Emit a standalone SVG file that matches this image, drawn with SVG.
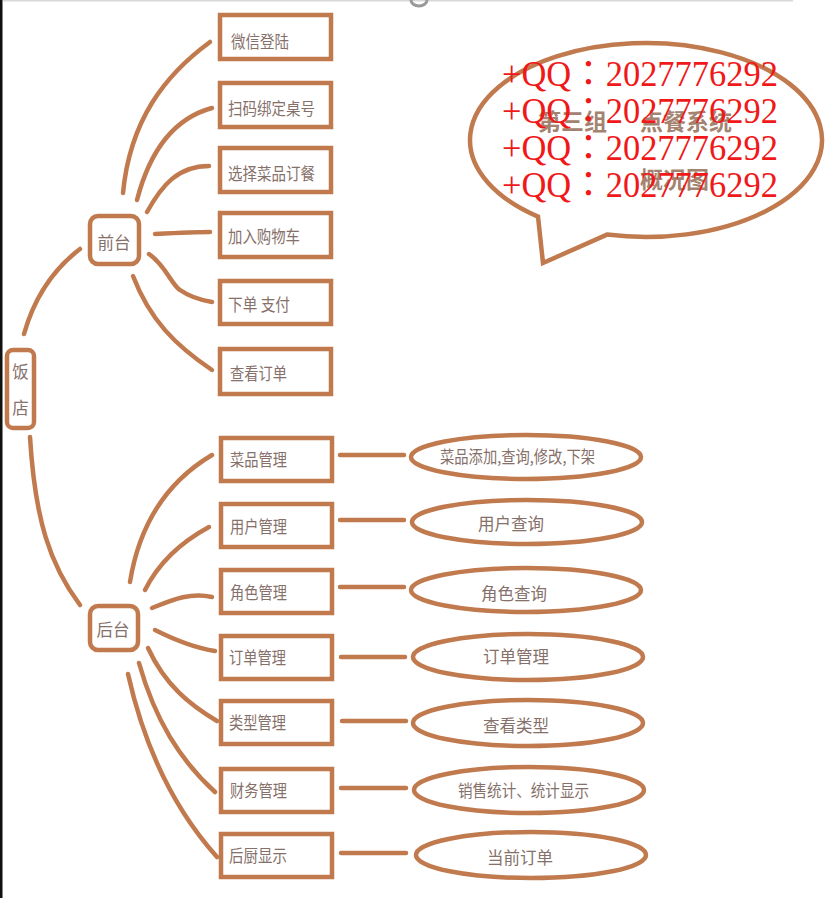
<svg xmlns="http://www.w3.org/2000/svg" width="825" height="898" viewBox="0 0 825 898">
<style>
.bx{fill:#fff;stroke:#c07a4e;stroke-width:4.5}
.el{fill:#fff;stroke:#c07a4e;stroke-width:4.5}
.ln{fill:none;stroke:#c07a4e;stroke-width:4.5;stroke-linecap:round}
.t{font-family:"Noto Sans CJK SC","Noto Sans",sans-serif;font-size:16.5px;fill:#86706a}
.tc{font-family:"Noto Sans CJK SC","Noto Sans",sans-serif;font-size:16.5px;fill:#86706a;text-anchor:middle}
.ti{font-family:"Noto Sans CJK SC","Noto Sans",sans-serif;font-size:23px;font-weight:700;fill:#a3836f}
.qq{font-family:"Liberation Serif","Noto Sans CJK TC",serif;font-size:35px;fill:#f01818}
</style>
<rect x="0" y="0" width="825" height="898" fill="#fff"/>
<rect x="0" y="0" width="2.5" height="898" fill="#111"/>
<rect x="3" y="0" width="790" height="1.5" fill="#d8d8d8"/>
<path d="M411,0 A8,6 0 0 0 427,0" fill="none" stroke="#999" stroke-width="3"/>

<g id="connectors">
<path class="ln" d="M24,334 C35,295 55,268 80,249"/>
<path class="ln" d="M30,437 C35,520 50,565 80,605"/>
<path class="ln" d="M123,193 C130,120 165,75 210,42"/>
<path class="ln" d="M137,200 C150,150 175,118 212,108"/>
<path class="ln" d="M147,212 C162,185 178,166 209,166"/>
<path class="ln" d="M155,234 C175,233 195,232 210,232"/>
<path class="ln" d="M149,254 C165,265 172,285 180,290 C190,297 200,300 212,302"/>
<path class="ln" d="M133,276 C150,320 175,345 212,370"/>
<path class="ln" d="M130,582 C140,520 170,480 212,455"/>
<path class="ln" d="M145,590 C160,560 185,540 209,527"/>
<path class="ln" d="M152,608 C172,600 190,592 212,597"/>
<path class="ln" d="M155,630 C175,640 195,648 215,651"/>
<path class="ln" d="M148,648 C165,685 190,705 217,721"/>
<path class="ln" d="M139,663 C155,720 180,760 215,792"/>
<path class="ln" d="M128,674 C145,750 175,810 217,857"/>
<path class="ln" d="M340,455 H404"/>
<path class="ln" d="M340,520 H404"/>
<path class="ln" d="M340,587 H404"/>
<path class="ln" d="M341,657 H405"/>
<path class="ln" d="M342,721 H406"/>
<path class="ln" d="M341,788 H406"/>
<path class="ln" d="M341,853 H406"/>
</g>

<g id="bubble">
<path d="M538,216.6 A176,97 0 1 1 607,234.6 L543,263 Z" fill="#fff" stroke="#c07a4e" stroke-width="4.5" stroke-linejoin="miter"/>
<text class="ti"><tspan x="538" y="130">第三组</tspan><tspan x="640" y="130">点餐系统</tspan></text>
<text class="ti" x="640" y="188">概况图</text>
</g>

<g id="root"><rect class="bx" x="7" y="350" width="27" height="78" rx="6"/>
<text class="tc" x="20.5" y="378">饭</text><text class="tc" x="20.5" y="414">店</text></g>

<g id="front"><rect class="bx" x="90" y="216" width="49" height="48" rx="8"/><text class="tc" x="114" y="249">前台</text></g>
<g id="back"><rect class="bx" x="90" y="606" width="48" height="44" rx="8"/><text class="tc" x="113" y="636">后台</text></g>

<g id="f1"><rect class="bx" x="220" y="15" width="111" height="44"/><text class="t" x="231" y="48" textLength="58" lengthAdjust="spacingAndGlyphs">微信登陆</text></g>
<g id="f2"><rect class="bx" x="220" y="83" width="111" height="44"/><text class="t" x="228" y="115" textLength="87" lengthAdjust="spacingAndGlyphs">扫码绑定桌号</text></g>
<g id="f3"><rect class="bx" x="220" y="148" width="111" height="44"/><text class="t" x="228" y="180" textLength="87" lengthAdjust="spacingAndGlyphs">选择菜品订餐</text></g>
<g id="f4"><rect class="bx" x="220" y="213" width="111" height="44"/><text class="t" x="228" y="243" textLength="72" lengthAdjust="spacingAndGlyphs">加入购物车</text></g>
<g id="f5"><rect class="bx" x="220" y="281" width="111" height="43"/><text class="t" x="228" y="311" textLength="62" lengthAdjust="spacingAndGlyphs">下单 支付</text></g>
<g id="f6"><rect class="bx" x="220" y="349" width="111" height="45"/><text class="t" x="230" y="380" textLength="57" lengthAdjust="spacingAndGlyphs">查看订单</text></g>

<g id="b1"><rect class="bx" x="221" y="438" width="111" height="43"/><text class="t" x="230" y="466" textLength="57" lengthAdjust="spacingAndGlyphs">菜品管理</text></g>
<g id="b2"><rect class="bx" x="221" y="504" width="111" height="43"/><text class="t" x="230" y="533" textLength="57" lengthAdjust="spacingAndGlyphs">用户管理</text></g>
<g id="b3"><rect class="bx" x="221" y="570" width="111" height="43"/><text class="t" x="230" y="599" textLength="57" lengthAdjust="spacingAndGlyphs">角色管理</text></g>
<g id="b4"><rect class="bx" x="221" y="636" width="111" height="43"/><text class="t" x="229" y="664" textLength="57" lengthAdjust="spacingAndGlyphs">订单管理</text></g>
<g id="b5"><rect class="bx" x="221" y="701" width="111" height="43"/><text class="t" x="229" y="729" textLength="57" lengthAdjust="spacingAndGlyphs">类型管理</text></g>
<g id="b6"><rect class="bx" x="221" y="769" width="111" height="43"/><text class="t" x="230" y="797" textLength="57" lengthAdjust="spacingAndGlyphs">财务管理</text></g>
<g id="b7"><rect class="bx" x="221" y="834" width="111" height="43"/><text class="t" x="229" y="862" textLength="58" lengthAdjust="spacingAndGlyphs">后厨显示</text></g>

<g id="e1"><ellipse class="el" cx="526" cy="457" rx="115" ry="22"/><text class="t" x="440" y="463" textLength="155" lengthAdjust="spacingAndGlyphs">菜品添加,查询,修改,下架</text></g>
<g id="e2"><ellipse class="el" cx="527" cy="522" rx="115" ry="22"/><text class="tc" x="511" y="530">用户查询</text></g>
<g id="e3"><ellipse class="el" cx="526" cy="590" rx="115" ry="22"/><text class="tc" x="514" y="600">角色查询</text></g>
<g id="e4"><ellipse class="el" cx="528" cy="657" rx="115" ry="23"/><text class="tc" x="516" y="663">订单管理</text></g>
<g id="e5"><ellipse class="el" cx="528" cy="723" rx="115" ry="23"/><text class="tc" x="516" y="732">查看类型</text></g>
<g id="e6"><ellipse class="el" cx="529" cy="790" rx="115" ry="23"/><text class="t" x="458" y="797" textLength="131" lengthAdjust="spacingAndGlyphs">销售统计、统计显示</text></g>
<g id="e7"><ellipse class="el" cx="531" cy="855" rx="115" ry="23"/><text class="tc" x="520" y="864">当前订单</text></g>

<g id="watermark">
<text class="qq" x="502" y="86" textLength="276" lengthAdjust="spacingAndGlyphs">+QQ：2027776292</text>
<text class="qq" x="502" y="123" textLength="276" lengthAdjust="spacingAndGlyphs">+QQ：2027776292</text>
<text class="qq" x="502" y="160" textLength="276" lengthAdjust="spacingAndGlyphs">+QQ：2027776292</text>
<text class="qq" x="502" y="197" textLength="276" lengthAdjust="spacingAndGlyphs">+QQ：2027776292</text>
</g>
</svg>
